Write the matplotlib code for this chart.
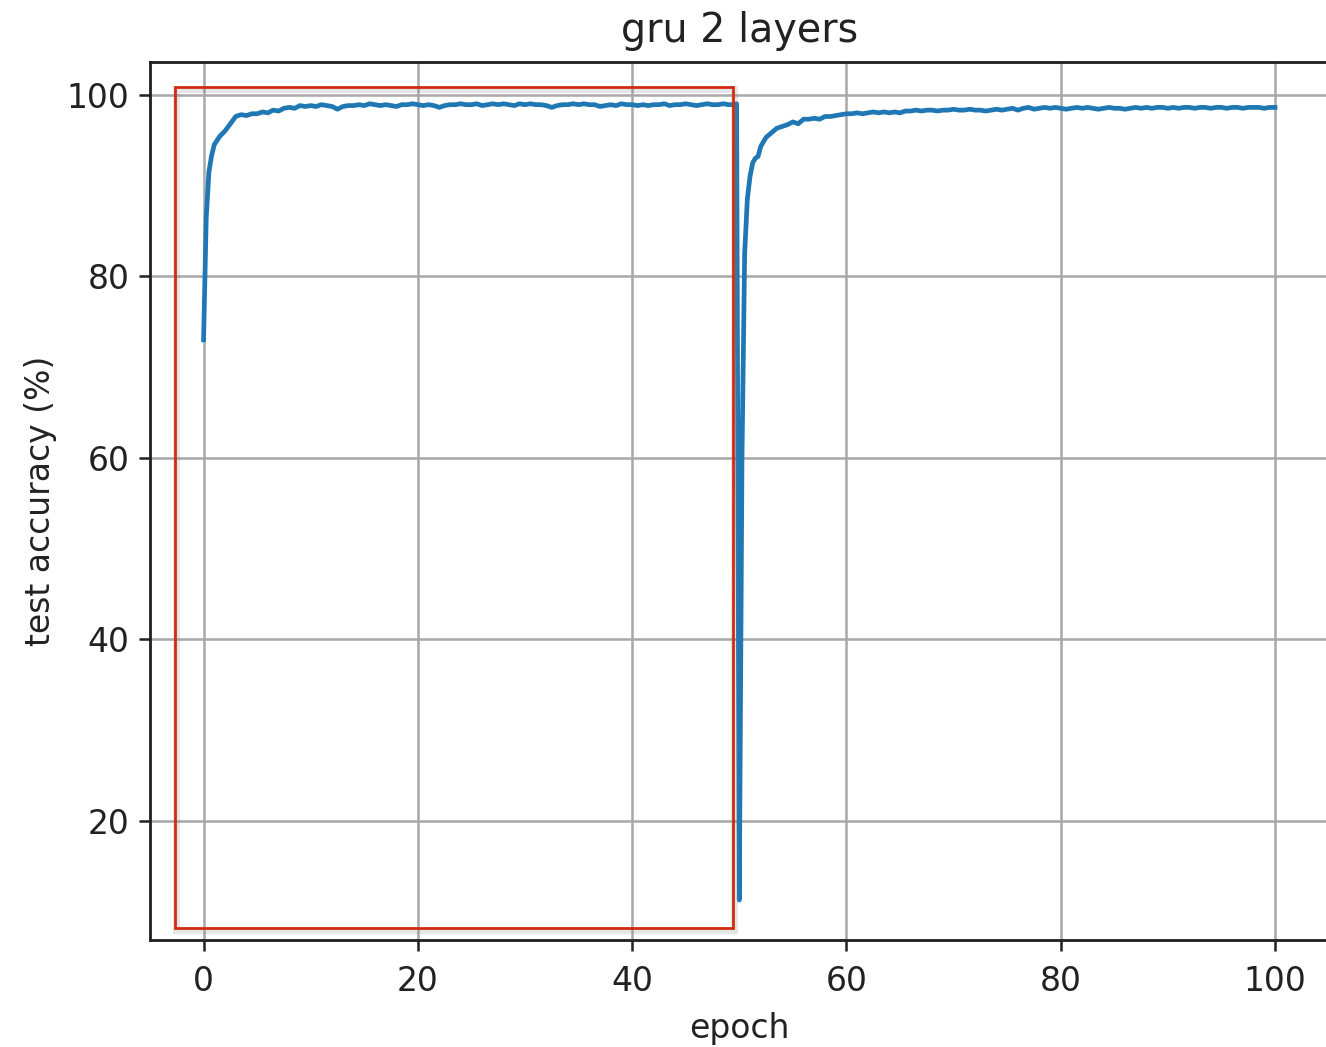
import numpy as np
import matplotlib
matplotlib.use("Agg")
import matplotlib.pyplot as plt
from matplotlib.patches import Rectangle
import matplotlib.patheffects as pe

# ---- data ----
epochs_a = [0, 0.25, 0.5, 0.75, 1.0, 1.5, 2.0, 2.5, 3.0, 3.5, 4.0, 4.5, 5.0, 5.5, 6.0, 6.5,
            7.0, 7.5, 8.0, 8.5, 9.0, 9.5, 10.0, 10.5, 11.0, 11.5, 12.0, 12.5, 13.0, 13.5,
            14.0, 14.5, 15.0, 15.5, 16.0, 16.5, 17.0, 17.5, 18.0, 18.5, 19.0, 19.5, 20.0,
            20.5, 21.0, 21.5, 22.0, 22.5, 23.0, 23.5, 24.0, 24.5, 25.0, 25.5, 26.0, 26.5,
            27.0, 27.5, 28.0, 28.5, 29.0, 29.5, 30.0, 30.5, 31.0, 31.5, 32.0, 32.5, 33.0,
            33.5, 34.0, 34.5, 35.0, 35.5, 36.0, 36.5, 37.0, 37.5, 38.0, 38.5, 39.0, 39.5,
            40.0, 40.5, 41.0, 41.5, 42.0, 42.5, 43.0, 43.5, 44.0, 44.5, 45.0, 45.5, 46.0,
            46.5, 47.0, 47.5, 48.0, 48.5, 49.0, 49.5, 49.75]
acc_a = [73.0, 86.5, 91.5, 93.3, 94.5, 95.4, 96.0, 96.8, 97.6, 97.8, 97.7, 97.9, 97.9, 98.1,
         98.0, 98.3, 98.2, 98.5, 98.6, 98.5, 98.8, 98.7, 98.8, 98.7, 98.9, 98.8, 98.7, 98.4,
         98.7, 98.8, 98.8, 98.9, 98.8, 99.0, 98.9, 98.8, 98.9, 98.8, 98.7, 98.9, 98.9, 99.0,
         98.9, 98.8, 98.9, 98.8, 98.6, 98.8, 98.9, 98.9, 99.0, 98.9, 98.9, 99.0, 98.8, 98.9,
         99.0, 98.9, 99.0, 98.9, 98.8, 99.0, 98.9, 99.0, 98.9, 98.9, 98.8, 98.6, 98.8, 98.9,
         98.9, 99.0, 98.9, 99.0, 98.9, 98.9, 98.7, 98.8, 98.9, 98.8, 99.0, 98.9, 98.9, 98.8,
         98.9, 98.8, 98.9, 98.9, 99.0, 98.8, 98.9, 98.9, 99.0, 98.9, 98.8, 98.9, 99.0, 98.9,
         98.9, 99.0, 98.9, 98.9, 99.0]

epochs_b = [50.0, 50.25, 50.5, 50.75, 51.0, 51.25, 51.5, 51.75, 52.0, 52.5, 53.0, 53.5, 54.0,
            54.5, 55.0, 55.5, 56.0, 56.5, 57.0, 57.5, 58.0, 58.5, 59.0, 59.5, 60.0, 60.5,
            61.0, 61.5, 62.0, 62.5, 63.0, 63.5, 64.0, 64.5, 65.0, 65.5, 66.0, 66.5, 67.0,
            67.5, 68.0, 68.5, 69.0, 69.5, 70.0, 70.5, 71.0, 71.5, 72.0, 72.5, 73.0, 73.5,
            74.0, 74.5, 75.0, 75.5, 76.0, 76.5, 77.0, 77.5, 78.0, 78.5, 79.0, 79.5, 80.0,
            80.5, 81.0, 81.5, 82.0, 82.5, 83.0, 83.5, 84.0, 84.5, 85.0, 85.5, 86.0, 86.5,
            87.0, 87.5, 88.0, 88.5, 89.0, 89.5, 90.0, 90.5, 91.0, 91.5, 92.0, 92.5, 93.0,
            93.5, 94.0, 94.5, 95.0, 95.5, 96.0, 96.5, 97.0, 97.5, 98.0, 98.5, 99.0, 99.5, 100.0]
acc_b = [11.3, 60.0, 82.5, 88.5, 91.0, 92.5, 93.0, 93.2, 94.3, 95.3, 95.8, 96.3, 96.5, 96.7,
         97.0, 96.8, 97.3, 97.3, 97.4, 97.3, 97.6, 97.6, 97.7, 97.8, 97.9, 97.9, 98.0, 97.9,
         98.0, 98.1, 98.0, 98.1, 98.0, 98.1, 98.0, 98.2, 98.2, 98.3, 98.2, 98.3, 98.3, 98.2,
         98.3, 98.3, 98.4, 98.3, 98.3, 98.4, 98.3, 98.3, 98.2, 98.3, 98.4, 98.3, 98.4, 98.5,
         98.3, 98.5, 98.6, 98.4, 98.5, 98.6, 98.5, 98.6, 98.5, 98.4, 98.5, 98.6, 98.5, 98.6,
         98.5, 98.4, 98.5, 98.6, 98.5, 98.5, 98.4, 98.5, 98.6, 98.5, 98.6, 98.5, 98.6, 98.6,
         98.5, 98.6, 98.5, 98.6, 98.6, 98.5, 98.6, 98.6, 98.5, 98.6, 98.6, 98.5, 98.6, 98.6,
         98.5, 98.6, 98.6, 98.6, 98.5, 98.6, 98.6]

x_ticks = [0, 20, 40, 60, 80, 100]
y_ticks = [20, 40, 60, 80, 100]
title = "gru 2 layers"
xlabel = "epoch"
ylabel = "test accuracy (%)"

# highlighted region (data coordinates)
box_x = (-2.7, 49.4)
box_y = (8.25, 100.9)

S = 2.27   # line scale relative to matplotlib defaults
T = 2.38   # text scale

fig = plt.figure(figsize=(13.26, 10.47), dpi=100)
ax = fig.add_axes([150 / 1326, 107 / 1047, (1328.6 - 150) / 1326, (940 - 62) / 1047])

epochs = epochs_a + epochs_b
acc = acc_a + acc_b
ax.plot(epochs, acc, color="#1f77b4", lw=1.5 * S, zorder=3)

ax.set_xticks(x_ticks)
ax.set_yticks(y_ticks)
ax.set_xlim(-5, 105)
ax.set_ylim(6.9, 103.6)
ax.grid(True, color="#a8a8a8", lw=0.8 * S)
ax.set_axisbelow(True)
ax.tick_params(labelsize=10 * T, length=3.5 * S, width=0.8 * S, pad=3.0 * S,
               colors="#222222")
ax.tick_params(axis="x", pad=4.5 * S)
for sp in ax.spines.values():
    sp.set_linewidth(0.9 * S)
    sp.set_color("#222222")

ax.set_title(title, fontsize=12 * T, pad=6.2 * S, color="#222222")
ax.set_xlabel(xlabel, fontsize=10 * T, labelpad=4.5 * S, color="#222222")
ax.set_ylabel(ylabel, fontsize=10 * T, labelpad=3 * S, color="#222222")

rect = Rectangle((box_x[0], box_y[0]), box_x[1] - box_x[0], box_y[1] - box_y[0],
                 fill=False, edgecolor="#d42a10", lw=2.0, zorder=4)
rect.set_path_effects([pe.SimpleLineShadow(offset=(1, -1.5), shadow_color="gray", alpha=0.2,
                                           linewidth=5), pe.Normal()])
ax.add_patch(rect)

fig.savefig("out.png", dpi=100)
